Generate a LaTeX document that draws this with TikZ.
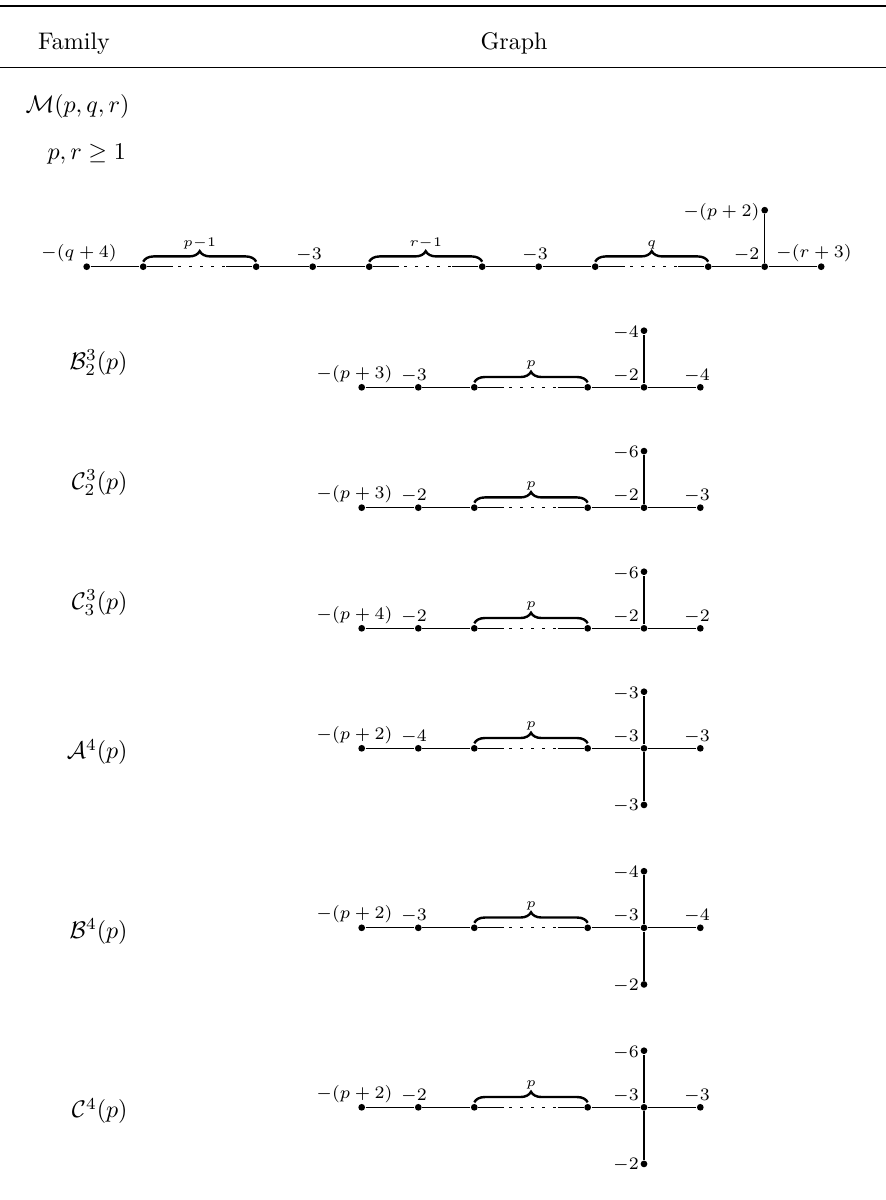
\RequirePackage{fix-cm}
\documentclass[tikz,border=0pt]{standalone}
\usepackage{amsmath,amssymb}
\usetikzlibrary{calc,decorations.pathreplacing}

\tikzset{
  vtx/.style={circle, fill=black, draw=none, inner sep=0pt, minimum size=2.8pt},
  wt/.style={font=\fontsize{7.3}{9}\selectfont, inner sep=0pt},
  brl/.style={font=\fontsize{5.5}{7}\selectfont, inner sep=0pt, anchor=base, yshift=8.6pt},
  edge/.style={line width=0.45pt},
  dotseg/.style={line width=0.45pt, dash pattern=on 1.25pt off 3.33pt},
  br/.style={decorate, decoration={brace, amplitude=4.4pt}, line width=1pt},
  fam/.style={inner sep=0pt, anchor=base},
}

% dotted chain between two vertices with a brace above it
\newcommand\ChainPart[3]{%
  \draw[edge] (#1) -- ($(#1)+(30,0)$);
  \draw[dotseg] ($(#1)+(35,0)$) -- ($(#1)+(82,0)$);
  \draw[edge] ($(#2)+(-30,0)$) -- (#2);
  \draw[br] ($(#1)+(0,-5)$) -- ($(#2)+(0,-5)$);
  \node[brl] (#1brace) at ($(#1)!0.5!(#2)$) {$#3$};
}

% small graph: #1 prefix, #2 y, #3 first label, #4 second label,
% #5 junction label, #6 right label, #7 top label
\newcommand\SmallGraph[7]{%
  \node[vtx] (#1a) at (361.7,#2) {};
  \node[vtx] (#1b) at (418.3,#2) {};
  \node[vtx] (#1c) at (474.3,#2) {};
  \node[vtx] (#1d) at (587.7,#2) {};
  \node[vtx] (#1e) at (644,#2) {};
  \node[vtx] (#1f) at (700.3,#2) {};
  \node[vtx] (#1t) at (644,{#2-56.6}) {};
  \draw[edge] (#1a) -- (#1b);
  \draw[edge] (#1b) -- (#1c);
  \ChainPart{#1c}{#1d}{p}
  \draw[edge] (#1d) -- (#1e);
  \draw[edge] (#1e) -- (#1f);
  \draw[edge] (#1e) -- (#1t);
  \node[wt, anchor=south] (#1la) at ($(#1a)+(-7.2,-4.3)$) {$#3$};
  \node[wt, anchor=south] (#1lb) at ($(#1b)+(-4.3,-4.3)$) {$#4$};
  \node[wt, anchor=south east] (#1le) at ($(#1e)+(-4.8,-4.3)$) {$#5$};
  \node[wt, anchor=south] (#1lf) at ($(#1f)+(-3.3,-4.3)$) {$#6$};
  \node[wt, anchor=east] (#1lt) at ($(#1t)+(-4.8,2)$) {$#7$};
}

% bottom branch: #1 prefix, #2 y, #3 label
\newcommand\BottomBranch[3]{%
  \node[vtx] (#1u) at (644,{#2+56.6}) {};
  \draw[edge] (#1e) -- (#1u);
  \node[wt, anchor=east] (#1lu) at ($(#1u)+(-4.8,1)$) {$#3$};
}

\begin{document}
\begin{tikzpicture}[x=0.41667pt, y=-0.41667pt]
\useasboundingbox (0,0) rectangle (886,1200);

% table rules
\coordinate (r1l) at (0,6);
\coordinate (r1r) at (886,6);
\coordinate (r2l) at (0,67.5);
\coordinate (r2r) at (886,67.5);
\draw[line width=0.8pt] (r1l) -- (r1r);
\draw[line width=0.6pt] (r2l) -- (r2r);

% header
\node[fam] (hfam) at (74,49) {Family};
\node[fam] (hgraph) at (514,49) {Graph};

% family names
\node[fam] (fM) at (77.5,112.5) {$\mathcal{M}(p,q,r)$};
\node[fam] (fMc) at (86.7,159) {$p,r\geq 1$};
\node[fam, anchor=base east] (fB23) at (128,369.5) {$\mathcal{B}_2^3(p)$};
\node[fam, anchor=base east] (fC23) at (128,489.5) {$\mathcal{C}_2^3(p)$};
\node[fam, anchor=base east] (fC33) at (128,609.5) {$\mathcal{C}_3^3(p)$};
\node[fam, anchor=base east] (fA4) at (128,758.8) {$\mathcal{A}^4(p)$};
\node[fam, anchor=base east] (fB4) at (128,938.3) {$\mathcal{B}^4(p)$};
\node[fam, anchor=base east] (fC4) at (128,1117.8) {$\mathcal{C}^4(p)$};

% ---- M(p,q,r) graph ----
\node[vtx] (m0) at (86.7,266.7) {};
\node[vtx] (m1) at (143.2,266.7) {};
\node[vtx] (m2) at (256.2,266.7) {};
\node[vtx] (m3) at (312.7,266.7) {};
\node[vtx] (m4) at (369.2,266.7) {};
\node[vtx] (m5) at (482.2,266.7) {};
\node[vtx] (m6) at (538.7,266.7) {};
\node[vtx] (m7) at (595.2,266.7) {};
\node[vtx] (m8) at (708.2,266.7) {};
\node[vtx] (m9) at (764.7,266.7) {};
\node[vtx] (m10) at (821.2,266.7) {};
\node[vtx] (mt) at (764.7,210.2) {};

\draw[edge] (m0) -- (m1);
\ChainPart{m1}{m2}{p{-}1}
\draw[edge] (m2) -- (m3);
\draw[edge] (m3) -- (m4);
\ChainPart{m4}{m5}{r{-}1}
\draw[edge] (m5) -- (m6);
\draw[edge] (m6) -- (m7);
\ChainPart{m7}{m8}{q}
\draw[edge] (m8) -- (m9);
\draw[edge] (m9) -- (m10);
\draw[edge] (m9) -- (mt);

\node[wt, anchor=south] (lm0) at ($(m0)+(-7.7,-4.3)$) {$-(q+4)$};
\node[wt, anchor=south] (lm3) at ($(m3)+(-3.7,-4.3)$) {$-3$};
\node[wt, anchor=south] (lm6) at ($(m6)+(-3.7,-4.3)$) {$-3$};
\node[wt, anchor=south east] (lm9) at ($(m9)+(-4.8,-4.3)$) {$-2$};
\node[wt, anchor=south] (lm10) at ($(m10)+(-7.2,-4.3)$) {$-(r+3)$};
\node[wt, anchor=east] (lmt) at ($(mt)+(-4.8,2)$) {$-(p+2)$};

% ---- small graphs ----
\SmallGraph{ba}{387.3}{-(p+3)}{-3}{-2}{-4}{-4}
\SmallGraph{ca}{507.7}{-(p+3)}{-2}{-2}{-3}{-6}
\SmallGraph{cb}{628.3}{-(p+4)}{-2}{-2}{-2}{-6}
\SmallGraph{aa}{748.3}{-(p+2)}{-4}{-3}{-3}{-3}
\BottomBranch{aa}{748.3}{-3}
\SmallGraph{bb}{927.8}{-(p+2)}{-3}{-3}{-4}{-4}
\BottomBranch{bb}{927.8}{-2}
\SmallGraph{cc}{1107.3}{-(p+2)}{-2}{-3}{-3}{-6}
\BottomBranch{cc}{1107.3}{-2}
\end{tikzpicture}
\end{document}
